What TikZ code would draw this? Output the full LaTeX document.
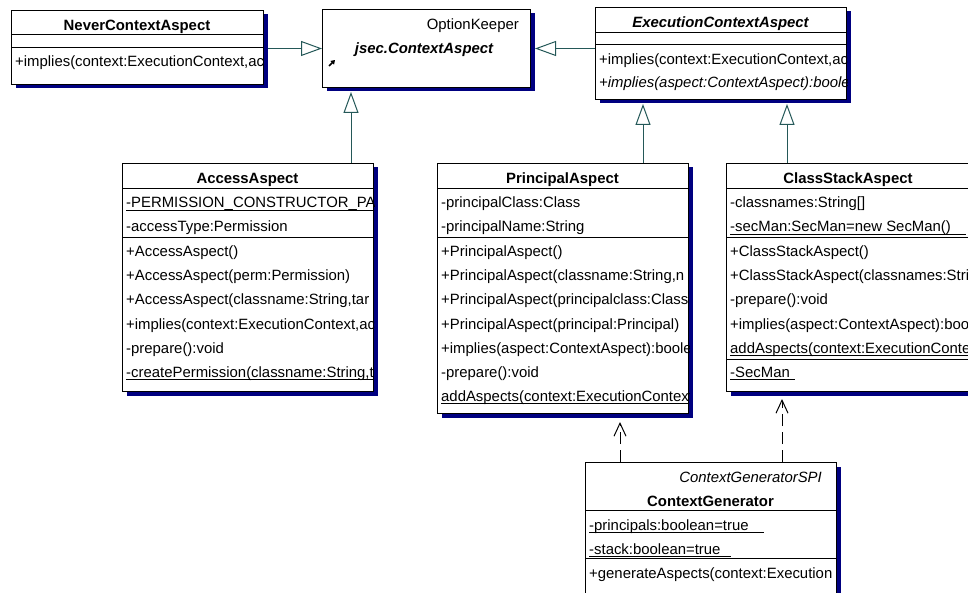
\documentclass[tikz,border=0pt]{standalone}
\usepackage{fontspec}
\setmainfont{Liberation Sans}
\usetikzlibrary{arrows.meta,shadows}

\definecolor{shadownavy}{RGB}{0,0,128}
\definecolor{linkteal}{RGB}{36,88,88}

\newcommand\umlfont{\fontsize{14.9}{17}\selectfont}
\newsavebox\ulinebox
% underlined member text; optional argument lengthens the rule past the text
\newcommand\ulined[2][0pt]{\sbox\ulinebox{#2\hspace*{#1}}\rlap{\rule[-2.6pt]{\wd\ulinebox}{0.8pt}}#2}

\tikzset{
  classbox/.style={draw=black, line width=1pt, fill=white, rectangle, inner sep=0pt,
    anchor=north west,
    drop shadow={shadow xshift=4pt, shadow yshift=-4pt, fill=shadownavy, opacity=1}},
  member/.style={anchor=base west, inner sep=0pt, font=\umlfont},
  memberit/.style={anchor=base west, inner sep=0pt, font=\umlfont\itshape},
  ctitle/.style={anchor=base, inner sep=0pt, font=\umlfont\bfseries},
  ctitleit/.style={anchor=base, inner sep=0pt, font=\umlfont\bfseries\itshape},
  divider/.style={draw=black, line width=1pt},
  gen/.style={draw=linkteal, line width=1pt,
    -{Triangle[length=21pt, width=15pt, fill=white]}},
  dep/.style={draw=black, line width=1pt, dash pattern=on 12pt off 6pt,
    -{Straight Barb[length=13pt, width=12pt]}}
}

\begin{document}
\begin{tikzpicture}[x=1pt, y=-1pt]
\path[use as bounding box, fill=white] (0,0) rectangle (968,593);

% ---------- NeverContextAspect ----------
\node[classbox, minimum width=252pt, minimum height=74pt] (never) at (11,10) {};
\begin{scope}
  \clip (never.north west) rectangle (never.south east);
  \node[ctitle] (never-t) at (137,31) {NeverContextAspect};
  \draw[divider] (11,35) -- (263,35);
  \draw[divider] (11,48) -- (263,48);
  \node[member] (never-m1) at (15,67) {+implies(context:ExecutionContext,ac};
\end{scope}

% ---------- jsec.ContextAspect ----------
\node[classbox, minimum width=208pt, minimum height=78pt] (opt) at (322,9) {};
\node[member, anchor=base east] (opt-s) at (519,30) {OptionKeeper};
\node[ctitleit] (opt-t) at (424,54) {jsec.ContextAspect};
\draw[line width=1.6pt, -{Triangle[length=4pt,width=5pt]}] (329,66) -- (335,60);

% ---------- ExecutionContextAspect ----------
\node[classbox, minimum width=251pt, minimum height=92pt] (exec) at (595,7) {};
\begin{scope}
  \clip (exec.north west) rectangle (exec.south east);
  \node[ctitleit] (exec-t) at (720.5,28) {ExecutionContextAspect};
  \draw[divider] (595,33) -- (846,33);
  \draw[divider] (595,45) -- (846,45);
  \node[member] (exec-m1) at (599,65) {+implies(context:ExecutionContext,ac};
  \node[memberit] (exec-m2) at (599,88) {+implies(aspect:ContextAspect):boole};
\end{scope}

% ---------- AccessAspect ----------
\node[classbox, minimum width=251pt, minimum height=228pt] (acc) at (122,163) {};
\begin{scope}
  \clip (acc.north west) rectangle (acc.south east);
  \node[ctitle] (acc-t) at (247.5,184) {AccessAspect};
  \draw[divider] (122,189) -- (373,189);
  \node[member] (acc-a1) at (126,208) {\ulined[30pt]{-PERMISSION\_CONSTRUCTOR\_PA}};
  \node[member] (acc-a2) at (126,232) {-accessType:Permission};
  \draw[divider] (122,238) -- (373,238);
  \node[member] (acc-m1) at (126,257) {+AccessAspect()};
  \node[member] (acc-m2) at (126,281) {+AccessAspect(perm:Permission)};
  \node[member] (acc-m3) at (126,305) {+AccessAspect(classname:String,tar};
  \node[member] (acc-m4) at (126,329) {+implies(context:ExecutionContext,ac};
  \node[member] (acc-m5) at (126,353) {-prepare():void};
  \node[member] (acc-m6) at (126,377) {\ulined{-createPermission(classname:String,t}};
\end{scope}

% ---------- PrincipalAspect ----------
\node[classbox, minimum width=251pt, minimum height=250pt] (pa) at (437,163) {};
\begin{scope}
  \clip (pa.north west) rectangle (pa.south east);
  \node[ctitle] (pa-t) at (562.5,184) {PrincipalAspect};
  \draw[divider] (437,189) -- (688,189);
  \node[member] (pa-a1) at (441,208) {-principalClass:Class};
  \node[member] (pa-a2) at (441,232) {-principalName:String};
  \draw[divider] (437,238) -- (688,238);
  \node[member] (pa-m1) at (441,257) {+PrincipalAspect()};
  \node[member] (pa-m2) at (441,281) {+PrincipalAspect(classname:String,n};
  \node[member] (pa-m3) at (441,305) {+PrincipalAspect(principalclass:Class};
  \node[member] (pa-m4) at (441,329) {+PrincipalAspect(principal:Principal)};
  \node[member] (pa-m5) at (441,353) {+implies(aspect:ContextAspect):boole};
  \node[member] (pa-m6) at (441,377) {-prepare():void};
  \node[member] (pa-m7) at (441,401) {\ulined{addAspects(context:ExecutionContext}};
\end{scope}

% ---------- ClassStackAspect ----------
\node[classbox, minimum width=244pt, minimum height=228pt] (csa) at (726,163) {};
\begin{scope}
  \clip (csa.north west) rectangle (csa.south east);
  \node[ctitle] (csa-t) at (848,184) {ClassStackAspect};
  \draw[divider] (726,189) -- (970,189);
  \node[member] (csa-a1) at (730,208) {-classnames:String[]};
  \node[member] (csa-a2) at (730,232) {\ulined[15pt]{-secMan:SecMan=new SecMan()}};
  \draw[divider] (726,238) -- (970,238);
  \node[member] (csa-m1) at (730,257) {+ClassStackAspect()};
  \node[member] (csa-m2) at (730,281) {+ClassStackAspect(classnames:String};
  \node[member] (csa-m3) at (730,305) {-prepare():void};
  \node[member] (csa-m4) at (730,329) {+implies(aspect:ContextAspect):boolean};
  \node[member] (csa-m5) at (730,353) {\ulined{addAspects(context:ExecutionContext}};
  \draw[divider] (726,359) -- (970,359);
  \node[member] (csa-c1) at (730,377) {\ulined[5pt]{-SecMan}};
\end{scope}

% ---------- ContextGenerator ----------
\node[classbox, minimum width=251pt, minimum height=160pt] (cg) at (585,462) {};
\begin{scope}
  \clip (cg.north west) rectangle (cg.south east);
  \node[memberit, anchor=base east] (cg-s) at (822,482) {ContextGeneratorSPI};
  \node[ctitle] (cg-t) at (710.5,506) {ContextGenerator};
  \draw[divider] (585,510) -- (836,510);
  \node[member] (cg-a1) at (589,530) {\ulined[15pt]{-principals:boolean=true}};
  \node[member] (cg-a2) at (589,554) {\ulined[11pt]{-stack:boolean=true}};
  \draw[divider] (585,558) -- (836,558);
  \node[member] (cg-m1) at (589,578) {+generateAspects(context:Execution};
\end{scope}

% ---------- generalizations ----------
\coordinate (optbase) at ([yshift=-4pt]opt.south);
\coordinate (execbase) at ([yshift=-4pt]exec.south);
\coordinate (optright) at ([xshift=4pt]opt.east);
\coordinate (accx) at (351,0);
\coordinate (pax) at (643,0);
\coordinate (csax) at (787,0);

\draw[gen, shorten <=4pt] (never.east |- opt.west) -- (opt.west);
\draw[gen] (exec.west |- opt.east) -- (optright);
\draw[gen] (acc.north -| accx) -- (optbase -| accx);
\draw[gen] (pa.north -| pax) -- (execbase -| pax);
\draw[gen] (csa.north -| csax) -- (execbase -| csax);

% ---------- dependencies ----------
\coordinate (dep1x) at (620,0);
\coordinate (dep2x) at (782,0);
\draw[dep, shorten >=8pt] (cg.north -| dep1x) -- (pa.south -| dep1x);
\draw[dep, shorten >=7pt] (cg.north -| dep2x) -- (csa.south -| dep2x);
\end{tikzpicture}
\end{document}
